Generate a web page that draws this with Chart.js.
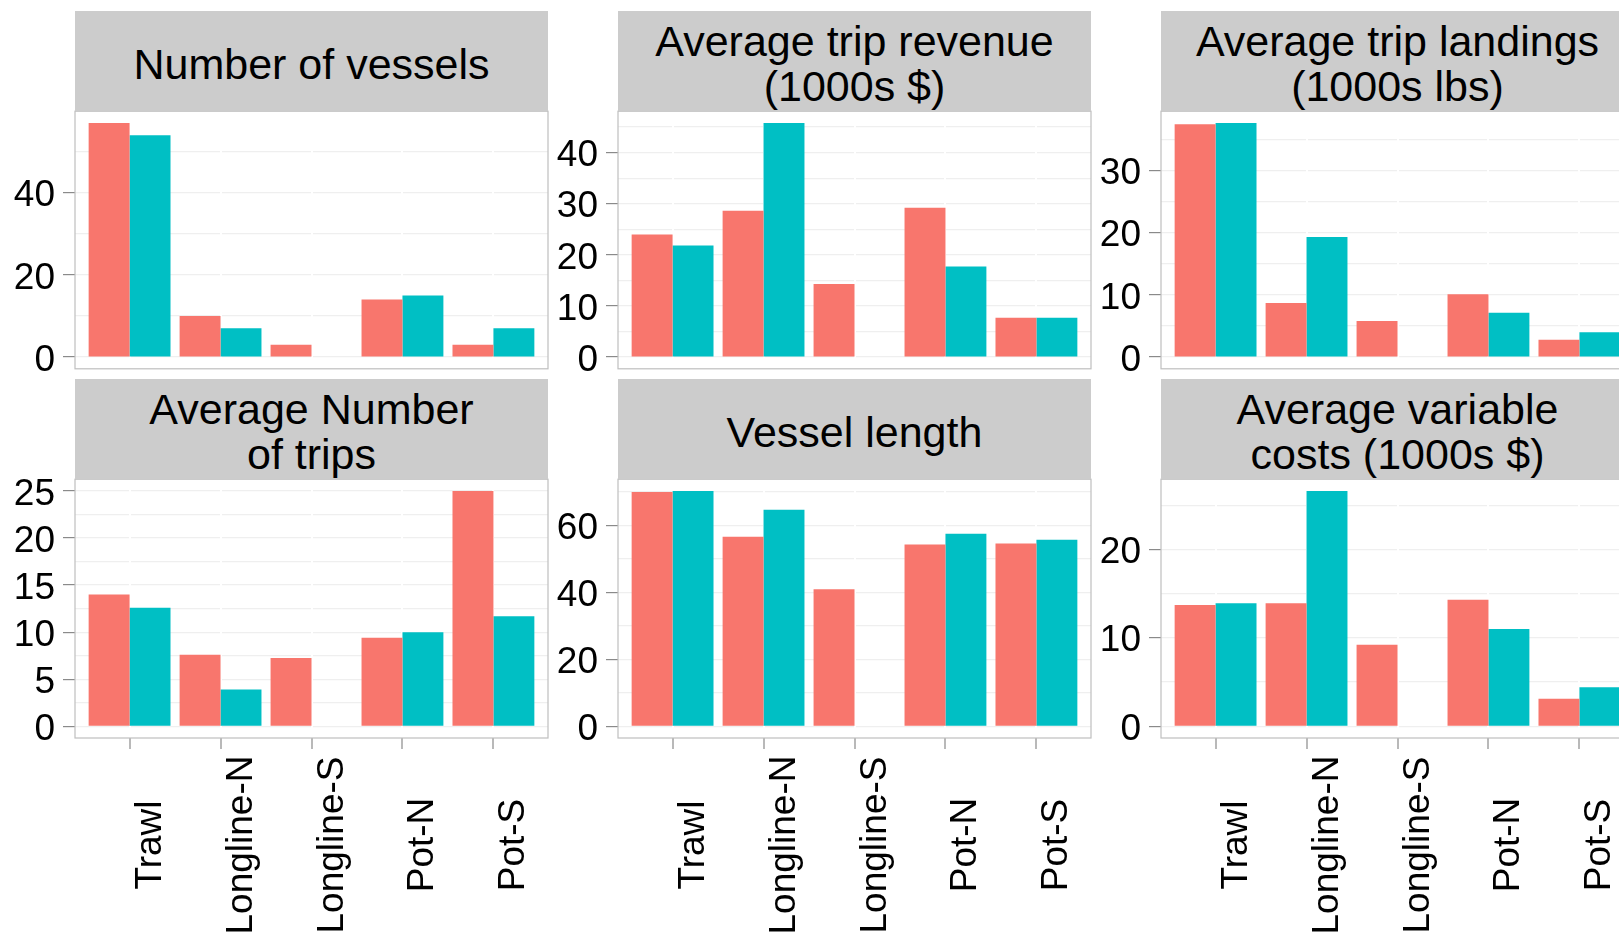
<!DOCTYPE html>
<html>
<head>
<meta charset="utf-8">
<script src="https://cdn.jsdelivr.net/npm/chart.js@4.4.1/dist/chart.umd.min.js"></script>
<style>
html, body { margin: 0; padding: 0; background: #fff; overflow: hidden; }
body { width: 1619px; height: 933px; position: relative; font-family: "Liberation Sans", Arial, sans-serif; }
canvas { position: absolute; }
.strip {
  position: absolute; height: 100px; background: #cccccc; color: #000;
  display: flex; flex-direction: column; align-items: center; justify-content: center;
  box-sizing: border-box; padding-top: 6px;
  font-size: 43px; line-height: 45px; white-space: nowrap;
}
</style>
</head>
<body>
<script>
// values (red = first group, teal = second group)
const categories = ['Trawl', 'Longline-N', 'Longline-S', 'Pot-N', 'Pot-S'];

const vesselsRed   = [57, 10, 3, 14, 3];
const vesselsTeal  = [54, 7, null, 15, 7];
const revenueRed   = [24.0, 28.6, 14.3, 29.2, 7.7];
const revenueTeal  = [21.8, 45.8, null, 17.7, 7.7];
const landingsRed  = [37.4, 8.7, 5.8, 10.1, 2.8];
const landingsTeal = [37.6, 19.3, null, 7.1, 4.0];
const tripsRed     = [14.0, 7.6, 7.25, 9.4, 25.0];
const tripsTeal    = [12.6, 3.9, null, 10.0, 11.7];
const lengthRed    = [70.0, 56.6, 40.9, 54.3, 54.6];
const lengthTeal   = [70.3, 64.7, null, 57.5, 55.7];
const costsRed     = [13.7, 13.9, 9.2, 14.3, 3.1];
const costsTeal    = [13.9, 26.6, null, 11.0, 4.4];

// tick labels (major) and the faint minor grid lines
const vesselsTicks  = [0, 20, 40];          const vesselsMinor  = [10, 30, 50];
const revenueTicks  = [0, 10, 20, 30, 40];  const revenueMinor  = [5, 15, 25, 35, 45];
const landingsTicks = [0, 10, 20, 30];      const landingsMinor = [5, 15, 25, 35];
const tripsTicks    = [0, 5, 10, 15, 20, 25]; const tripsMinor  = [2.5, 7.5, 12.5, 17.5, 22.5];
const lengthTicks   = [0, 20, 40, 60];      const lengthMinor   = [10, 30, 50, 70];
const costsTicks    = [0, 10, 20];          const costsMinor    = [5, 15, 25];

const panels = [
  { title: ['Number of vessels'], red: vesselsRed, teal: vesselsTeal, major: vesselsTicks, minor: vesselsMinor },
  { title: ['Average trip revenue', '(1000s $)'], red: revenueRed, teal: revenueTeal, major: revenueTicks, minor: revenueMinor },
  { title: ['Average trip landings', '(1000s lbs)'], red: landingsRed, teal: landingsTeal, major: landingsTicks, minor: landingsMinor },
  { title: ['Average Number', 'of trips'], red: tripsRed, teal: tripsTeal, major: tripsTicks, minor: tripsMinor },
  { title: ['Vessel length'], red: lengthRed, teal: lengthTeal, major: lengthTicks, minor: lengthMinor },
  { title: ['Average variable', 'costs (1000s $)'], red: costsRed, teal: costsTeal, major: costsTicks, minor: costsMinor }
];

// page layout (px)
const PANEL_LEFT = [75, 618, 1161];
const PANEL_W = 473;
const STRIP_TOP = [11, 379];
const PLOT_TOP = [111, 479];
const PLOT_H = [258, 259];
const AXIS_W = 75;   // room for y labels left of the panel
const PAD = 30;      // room for half a tick label above/below
const FONT = '"Liberation Sans", Arial, sans-serif';

Chart.defaults.font.family = FONT;

// ggplot-like panel border on top of the bars
const panelBorder = {
  id: 'panelBorder',
  afterDatasetsDraw(chart) {
    const a = chart.chartArea, ctx = chart.ctx;
    ctx.save();
    ctx.strokeStyle = '#bfbfbf';
    ctx.lineWidth = 1.2;
    ctx.strokeRect(a.left, a.top, a.right - a.left, a.bottom - a.top);
    ctx.restore();
  }
};

// rotated category labels, centred vertically like ggplot's hjust = 0.5
const xLabels = {
  id: 'xLabels',
  afterDraw(chart, args, opts) {
    if (!opts.show) return;
    const xs = chart.scales.x, ctx = chart.ctx;
    ctx.save();
    ctx.font = '37px ' + FONT;
    ctx.fillStyle = '#000';
    ctx.textAlign = 'center';
    ctx.textBaseline = 'alphabetic';
    categories.forEach((c, i) => {
      ctx.save();
      ctx.translate(xs.getPixelForValue(i + 1) + 31, opts.centerY);
      ctx.rotate(-Math.PI / 2);
      ctx.fillText(c, 0, 0);
      ctx.restore();
    });
    ctx.restore();
  }
};

function makePanel(p, idx) {
  const col = idx % 3, row = Math.floor(idx / 3);
  const bottom = row === 1;
  const top = PLOT_TOP[row] - PAD;
  const h = bottom ? 933 - top : PAD + PLOT_H[row] + PAD;
  const xAxisH = bottom ? h - PAD - PLOT_H[row] : 0;

  const canvas = document.createElement('canvas');
  canvas.width = AXIS_W + PANEL_W + 12;
  canvas.height = h;
  canvas.style.left = (PANEL_LEFT[col] - AXIS_W) + 'px';
  canvas.style.top = top + 'px';
  document.body.appendChild(canvas);

  const hi = Math.max(...p.red.concat(p.teal).filter(v => v != null));
  const yTicks = p.major.concat(p.minor).sort((a, b) => a - b);

  new Chart(canvas, {
    type: 'bar',
    data: {
      datasets: [
        { data: p.red.map((v, i) => ({ x: i + 1, y: v })), backgroundColor: '#F8766D' },
        { data: p.teal.map((v, i) => ({ x: i + 1, y: v })), backgroundColor: '#00BFC4' }
      ]
    },
    options: {
      responsive: false,
      animation: false,
      events: [],
      layout: { padding: { left: 0, right: 12, top: PAD, bottom: bottom ? 0 : PAD } },
      datasets: { bar: { categoryPercentage: 0.9, barPercentage: 1, borderWidth: 0 } },
      plugins: { legend: { display: false }, tooltip: { enabled: false },
                 xLabels: { show: bottom, centerY: 845 - top } },
      scales: {
        x: {
          type: 'linear', min: 0.4, max: 5.6, offset: false,
          afterBuildTicks: s => { s.ticks = categories.map((c, i) => ({ value: i + 1 })); },
          afterFit: s => { s.height = xAxisH; },
          grid: { z: -1, offset: false, color: '#ffffff', lineWidth: 2,
                  drawTicks: bottom, tickLength: 11, tickColor: '#8a8a8a', tickWidth: 1.2 },
          border: { display: false },
          ticks: { display: false }
        },
        y: {
          min: -0.05 * hi, max: 1.05 * hi,
          afterBuildTicks: s => { s.ticks = yTicks.map(v => ({ value: v })); },
          afterFit: s => { s.width = AXIS_W; },
          grid: { z: -2, color: '#efefef', lineWidth: 1.2, tickLength: 12, tickWidth: 1.2,
                  tickColor: c => p.major.includes(c.tick.value) ? '#8a8a8a' : 'rgba(0,0,0,0)' },
          border: { display: false },
          ticks: { autoSkip: false, padding: 8, labelOffset: 3.5, color: '#000', font: { size: 37 },
                   callback: v => p.major.includes(v) ? String(v) : '' }
        }
      }
    },
    plugins: [panelBorder, xLabels]
  });

  const strip = document.createElement('div');
  strip.className = 'strip';
  strip.style.left = PANEL_LEFT[col] + 'px';
  strip.style.top = STRIP_TOP[row] + 'px';
  strip.style.width = PANEL_W + 'px';
  p.title.forEach(t => {
    const line = document.createElement('div');
    line.textContent = t;
    strip.appendChild(line);
  });
  document.body.appendChild(strip);
}

panels.forEach(makePanel);
</script>
</body>
</html>
